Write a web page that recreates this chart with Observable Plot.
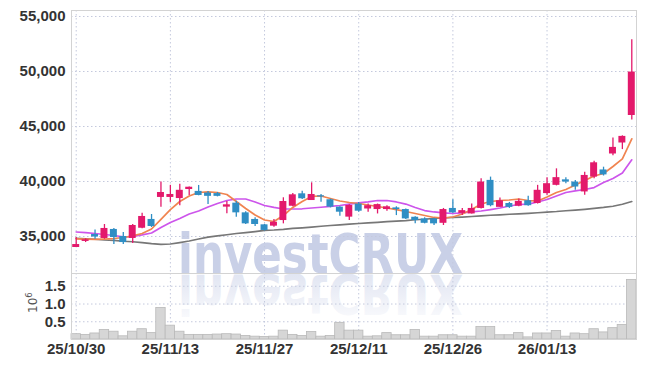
<!DOCTYPE html>
<html><head><meta charset="utf-8">
<script src="https://cdn.jsdelivr.net/npm/d3@7"></script>
<script src="https://cdn.jsdelivr.net/npm/@observablehq/plot@0.6"></script>
<style>
html,body{margin:0;padding:0;background:#fff;}
#wrap{position:relative;width:645px;height:367px;overflow:hidden;background:#fff;}
#wrap svg{position:absolute;left:0;}
</style></head><body><div id="wrap"></div>
<script>
const dates = ["25/10/30","25/10/31","25/11/03","25/11/04","25/11/05","25/11/06","25/11/07","25/11/10","25/11/11","25/11/12",
"25/11/13","25/11/14","25/11/17","25/11/18","25/11/19","25/11/20","25/11/21","25/11/24","25/11/25","25/11/26",
"25/11/27","25/11/28","25/12/01","25/12/02","25/12/03","25/12/04","25/12/05","25/12/08","25/12/09","25/12/10",
"25/12/11","25/12/12","25/12/15","25/12/16","25/12/17","25/12/18","25/12/19","25/12/22","25/12/23","25/12/24",
"25/12/26","25/12/29","25/12/30","26/01/02","26/01/05","26/01/06","26/01/07","26/01/08","26/01/09","26/01/12",
"26/01/13","26/01/14","26/01/15","26/01/16","26/01/19","26/01/20","26/01/21","26/01/22","26/01/23","26/01/26"];
const open  = [34000,34550,35180,34820,35640,35000,34820,35750,36550,38550,
38550,38450,39270,39100,38950,38900,37670,38030,37150,36550,
36060,35940,36450,37750,38880,38270,38700,38340,37670,36760,
37950,37500,37450,37450,37600,37450,36750,36600,36600,36200,
37550,37100,37050,37550,40100,37650,38000,37750,38250,38000,
38900,39650,40150,39950,39050,40400,41050,42500,43500,46000];
const high  = [34900,34800,35600,36090,35730,35360,36090,37120,37000,39950,
39650,39750,39500,39640,39100,39000,38180,38200,37250,36700,
36100,36550,38520,38900,39120,39880,38820,38400,37700,37880,
38100,37950,37950,37800,37700,37500,36800,36700,36650,37550,
38350,37550,37950,40250,40400,38500,38100,38400,38650,39650,
40350,41150,40350,40100,40850,41850,41300,43950,44150,52880];
const low   = [34000,34450,34750,34750,34270,34270,34360,35700,35820,37650,
38100,37800,38730,38700,37900,38600,37060,36750,36100,35910,
35500,35850,36150,37700,38360,38270,38120,37600,36850,36450,
37200,37200,37050,37300,36900,36550,36150,36150,36000,36000,
37100,36900,37050,37500,37700,37650,37550,37700,37750,37950,
38750,39600,39800,39200,38750,40250,40500,42350,42900,45600];
const close = [34270,34700,34950,35730,34910,34450,36000,36820,35910,39000,
38820,39200,39480,38730,38650,38650,37880,37150,36150,36090,
35550,36300,38180,38790,38430,38820,38600,37670,37210,37820,
37300,37800,37900,37700,37450,36600,36450,36200,36150,37450,
37150,37350,37550,39950,37800,38250,37650,38200,37800,39200,
39800,40350,39950,39500,40550,41700,40600,43100,44100,49950];
const volume = [0.15,0.13,0.17,0.27,0.22,0.09,0.22,0.29,0.18,0.89,
0.39,0.22,0.13,0.13,0.13,0.14,0.15,0.14,0.10,0.08,
0.07,0.08,0.25,0.13,0.10,0.21,0.08,0.10,0.47,0.25,
0.25,0.08,0.09,0.18,0.12,0.12,0.27,0.08,0.08,0.12,
0.12,0.08,0.08,0.35,0.35,0.12,0.12,0.18,0.06,0.17,
0.17,0.24,0.08,0.17,0.15,0.29,0.20,0.32,0.41,1.68];
const ma5 = [34790,34770,34730,34770,34820,34910,35050,35270,35680,36550,
37450,38180,38680,39000,39050,39000,38820,38180,37550,36950,
36500,36360,36910,37640,38180,38640,38680,38450,38230,38090,
38000,37860,37730,37590,37450,37270,37090,36910,36730,36680,
36770,37050,37450,37950,38180,38270,38320,38410,38270,38230,
38590,39000,39270,39680,40090,40500,40730,41360,42050,43880];
const ma20 = [35410,35360,35270,35180,35090,34970,35000,35140,35320,35820,
36270,36640,37050,37320,37680,38000,38270,38410,38410,38140,
37820,37640,37500,37500,37520,37590,37660,37730,37820,37950,
38050,38140,38270,38270,38140,37950,37640,37360,37230,37140,
37090,37140,37230,37320,37450,37590,37770,37910,37950,38140,
38360,38680,39000,39140,39270,39450,39910,40270,40770,41970];
const ma60 = [34840,34790,34750,34680,34640,34570,34520,34450,34360,34290,
34320,34450,34590,34770,34940,35050,35160,35270,35360,35450,
35550,35590,35650,35730,35790,35860,35930,36000,36060,36130,
36180,36240,36290,36350,36400,36450,36520,36570,36640,36680,
36730,36770,36820,36870,36930,36970,37020,37060,37110,37160,
37220,37270,37340,37400,37470,37550,37640,37750,37930,38180];
const priceTicks = [35000,40000,45000,50000,55000];
const volTicks = [0.5,1.0,1.5];
const dateTickIdx = [0,10,20,30,40,50];

const rows = dates.map((d,i)=>({i, date:d, open:open[i], high:high[i], low:low[i], close:close[i],
  volume:volume[i], ma5:ma5[i], ma20:ma20[i], ma60:ma60[i]}));
const UP="#e3196b", DOWN="#2f8ec4";
const candleColor = d => d.close >= d.open ? UP : DOWN;
const FONT = "'Liberation Sans Narrow','Arial Narrow',sans-serif";
const xDomain = [-0.5, 59.5];
const grid = {stroke:"#c4c9dd", strokeOpacity:1, strokeDasharray:"1.5,2.5", strokeWidth:1};
const axisText = {fontSize:15, fontWeight:"bold", fill:"#333", label:null, tickSize:0};
const wrap = document.getElementById("wrap");

// watermark (behind); reflection reuses the same text element
const wm = d3.create("svg").attr("width",645).attr("height",367).style("top","0px");
const defs = wm.append("defs");
const lg = defs.append("linearGradient").attr("id","fade").attr("gradientUnits","userSpaceOnUse")
  .attr("x1",0).attr("y1",226).attr("x2",0).attr("y2",272);
lg.append("stop").attr("offset","0").attr("stop-color","#ffffff").attr("stop-opacity",0.9);
lg.append("stop").attr("offset","1").attr("stop-color","#ffffff").attr("stop-opacity",0.35);
defs.append("text").attr("id","wmtext").attr("x",320.5).attr("y",273).attr("text-anchor","middle")
  .attr("font-family","'DejaVu Sans Condensed','DejaVu Sans',sans-serif").attr("font-stretch","condensed")
  .attr("font-weight","bold").attr("font-size",56)
  .attr("textLength",285).attr("lengthAdjust","spacingAndGlyphs").text("investCRUX");
wm.append("use").attr("href","#wmtext").attr("fill","#c9d0e7");
const refl = wm.append("g").attr("transform","translate(0,548) scale(1,-1)");
refl.append("use").attr("href","#wmtext").attr("fill","#d3d9ec");
refl.append("rect").attr("x",170).attr("y",222).attr("width",300).attr("height",52).attr("fill","url(#fade)");
wrap.appendChild(wm.node());

const price = Plot.plot({
  width:645, height:273, marginTop:10, marginBottom:0, marginLeft:71, marginRight:9,
  style:{background:"transparent", fontFamily:FONT, fontSize:"15px", color:"#333", overflow:"visible"},
  x:{domain:xDomain, axis:null},
  y:{domain:[31636,55545]},
  color:{type:"identity"},
  marks:[
    Plot.ruleX(dateTickIdx, grid),
    Plot.ruleY(priceTicks, grid),
    Plot.frame({stroke:"#d3d3d3"}),
    Plot.line(rows,{x:"i", y:"ma60", stroke:"#777777", strokeWidth:1.7}),
    Plot.line(rows,{x:"i", y:"ma20", stroke:"#cd55eb", strokeWidth:1.7}),
    Plot.line(rows,{x:"i", y:"ma5", stroke:"#f08450", strokeWidth:1.7}),
    Plot.ruleX(rows,{x:"i", y1:"low", y2:"high", stroke:candleColor, strokeWidth:1.3}),
    Plot.rect(rows,{x1:d=>d.i-0.37, x2:d=>d.i+0.37, y1:"open", y2:"close", fill:candleColor}),
    Plot.axisY(priceTicks,{...axisText, tickPadding:6, tickFormat:d3.format(",")})
  ]
});
price.style.top = "0px";
wrap.appendChild(price);

const vol = Plot.plot({
  width:645, height:94, marginTop:0, marginBottom:28, marginLeft:71, marginRight:9,
  style:{background:"transparent", fontFamily:FONT, fontSize:"15px", color:"#333", overflow:"visible"},
  x:{domain:xDomain},
  y:{domain:[0,1.86]},
  marks:[
    Plot.ruleX(dateTickIdx, grid),
    Plot.ruleY(volTicks, grid),
    Plot.rect(rows,{x1:d=>d.i-0.5, x2:d=>d.i+0.5, y1:0, y2:"volume", fill:"#d6d6d6", stroke:"#b9b9b9", strokeWidth:0.8}),
    Plot.frame({stroke:"#d3d3d3"}),
    Plot.axisY(volTicks,{...axisText, tickPadding:6, tickFormat:d3.format(".1f")}),
    Plot.axisX(dateTickIdx,{...axisText, tickPadding:4, tickFormat:i=>dates[i]})
  ]
});
vol.style.top = "273px";
wrap.appendChild(vol);

// unit label 10^6
const ul = d3.create("svg").attr("width",60).attr("height",367).style("top","0px");
const t = ul.append("text").attr("transform","translate(37,313) rotate(-90)")
  .attr("font-family","'DejaVu Sans',sans-serif").attr("font-size",12).attr("fill","#555");
t.append("tspan").text("10");
t.append("tspan").attr("baseline-shift","super").attr("font-size",8.5).text("6");
wrap.appendChild(ul.node());
</script></body></html>
